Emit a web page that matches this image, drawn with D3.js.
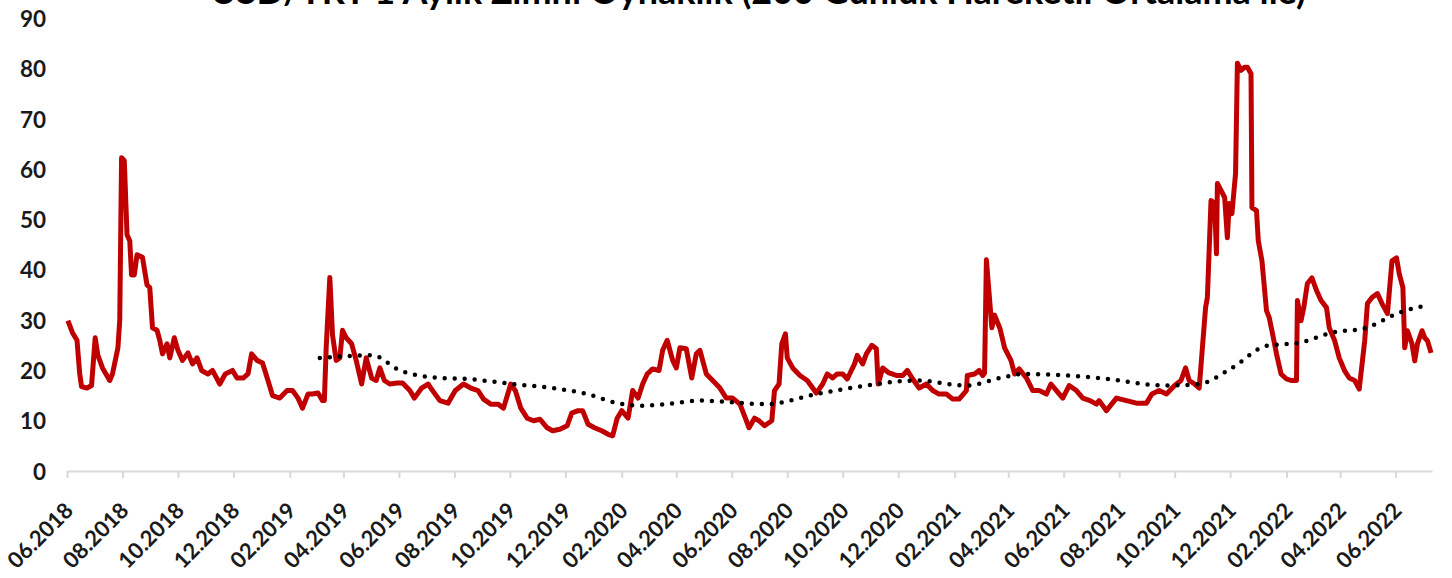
<!DOCTYPE html>
<html><head><meta charset="utf-8">
<script src="https://cdn.jsdelivr.net/npm/d3@7"></script>
<style>
body{margin:0;background:#fff;}
svg{display:block;}
text{font-family:Lato,"Open Sans","Liberation Sans",sans-serif;font-weight:700;}
</style>
</head><body>
<svg id="chart" width="1452" height="578"></svg>
<script>
const titleText = "USD/TRY 1 Aylık Zımni Oynaklık (200 Günlük Hareketli Ortalama ile)";
const yTickValues = [0,10,20,30,40,50,60,70,80,90];
const xTickLabels = ["06.2018","08.2018","10.2018","12.2018","02.2019","04.2019","06.2019","08.2019","10.2019","12.2019","02.2020","04.2020","06.2020","08.2020","10.2020","12.2020","02.2021","04.2021","06.2021","08.2021","10.2021","12.2021","02.2022","04.2022","06.2022"];
const xDomain = ["2018-06-01","2022-07-11"];

// 1-month implied volatility (date, value)
const impliedVol = [
["2018-06-02",29.9],["2018-06-07",27.5],["2018-06-12",26],["2018-06-15",19.3],["2018-06-17",16.8],["2018-06-23",16.5],["2018-06-28",17],
["2018-07-02",26.5],["2018-07-05",23],["2018-07-10",20.5],["2018-07-18",18],["2018-07-21",19.3],["2018-07-27",24.5],["2018-07-29",30],["2018-07-31",62.3],
["2018-08-03",61.7],["2018-08-06",47],["2018-08-09",45.8],["2018-08-11",39],["2018-08-14",39],["2018-08-17",43],["2018-08-23",42.5],["2018-08-28",37],["2018-08-31",36.5],
["2018-09-03",28.5],["2018-09-08",28],["2018-09-11",26],["2018-09-14",23.3],["2018-09-19",25.3],["2018-09-22",22.5],["2018-09-27",26.5],
["2018-10-01",24],["2018-10-06",22],["2018-10-12",23.5],["2018-10-17",21.3],["2018-10-22",22.5],["2018-10-27",20],
["2018-11-03",19.3],["2018-11-08",20],["2018-11-16",17.3],["2018-11-22",19.3],["2018-11-30",20],
["2018-12-05",18.5],["2018-12-12",18.5],["2018-12-17",19.3],["2018-12-21",23.3],["2018-12-27",22],
["2019-01-02",21.5],["2019-01-08",18],["2019-01-13",15],["2019-01-21",14.5],["2019-01-29",16],
["2019-02-04",16],["2019-02-10",14.5],["2019-02-15",12.5],["2019-02-21",15.3],["2019-02-26",15.3],
["2019-03-04",15.5],["2019-03-09",14],["2019-03-11",14],["2019-03-13",24.5],["2019-03-17",38.5],["2019-03-20",27],["2019-03-24",22],["2019-03-28",22.5],["2019-03-31",28],
["2019-04-04",26.5],["2019-04-10",25.3],["2019-04-15",22],["2019-04-21",17.3],["2019-04-26",22.5],
["2019-05-02",18.5],["2019-05-07",18],["2019-05-11",20.5],["2019-05-16",18],["2019-05-22",17.3],["2019-05-30",17.5],
["2019-06-05",17.5],["2019-06-13",16],["2019-06-18",14.5],["2019-06-26",16.5],
["2019-07-03",17.3],["2019-07-08",16],["2019-07-16",14],["2019-07-25",13.5],
["2019-08-02",16],["2019-08-11",17.3],["2019-08-19",16.5],["2019-08-27",16],
["2019-09-02",14.3],["2019-09-10",13.3],["2019-09-18",13.3],["2019-09-24",12.5],
["2019-10-02",17.3],["2019-10-07",16],["2019-10-13",12.5],["2019-10-20",10.5],["2019-10-27",10],
["2019-11-03",10.3],["2019-11-11",8.6],["2019-11-17",8],["2019-11-25",8.3],
["2019-12-03",9],["2019-12-08",11.5],["2019-12-15",12],["2019-12-20",12],["2019-12-26",9.3],
["2020-01-02",8.6],["2020-01-10",8],["2020-01-17",7.3],["2020-01-22",7],["2020-01-27",10.5],
["2020-02-01",12],["2020-02-08",10.5],["2020-02-13",16],["2020-02-19",14.5],["2020-02-24",17.3],["2020-02-29",19.3],
["2020-03-06",20.3],["2020-03-13",20],["2020-03-17",24],["2020-03-22",26],["2020-03-28",22],
["2020-04-01",20.5],["2020-04-05",24.5],["2020-04-12",24.3],["2020-04-18",18.5],["2020-04-23",23.3],["2020-04-27",24],
["2020-05-04",19.3],["2020-05-11",18],["2020-05-19",16.5],["2020-05-26",14.5],
["2020-06-02",14.5],["2020-06-10",13.3],["2020-06-17",10],["2020-06-20",8.6],["2020-06-26",10.5],
["2020-07-01",10],["2020-07-07",9],["2020-07-15",10],["2020-07-18",16],["2020-07-23",17.3],["2020-07-26",25.3],["2020-07-30",27.3],
["2020-08-01",22.5],["2020-08-07",20.5],["2020-08-15",19],["2020-08-23",18],["2020-08-29",16.5],
["2020-09-02",15.5],["2020-09-09",17.3],["2020-09-14",19.3],["2020-09-20",18.5],["2020-09-25",19.3],
["2020-10-01",19.3],["2020-10-06",18.3],["2020-10-14",21.3],["2020-10-17",23],["2020-10-23",21.3],["2020-10-27",23.3],
["2020-11-02",25],["2020-11-07",24.3],["2020-11-09",17.3],["2020-11-14",20.5],["2020-11-21",19.5],["2020-11-29",19],
["2020-12-06",19],["2020-12-11",20],["2020-12-17",18.3],["2020-12-24",16.5],
["2021-01-01",17.3],["2021-01-08",16],["2021-01-15",15.3],["2021-01-23",15.3],["2021-01-30",14.3],
["2021-02-06",14.3],["2021-02-14",16],["2021-02-15",19],["2021-02-23",19.3],["2021-02-28",20],
["2021-03-04",19],["2021-03-06",19.5],["2021-03-08",42],["2021-03-14",28.5],["2021-03-17",31],["2021-03-23",28.3],["2021-03-28",24.5],
["2021-04-04",22],["2021-04-08",19.3],["2021-04-13",20.3],["2021-04-21",18.5],["2021-04-28",16],
["2021-05-05",16],["2021-05-13",15.3],["2021-05-18",17.3],["2021-05-24",16],["2021-05-31",14.5],
["2021-06-07",17],["2021-06-15",16],["2021-06-22",14.5],["2021-06-30",14],
["2021-07-07",13.3],["2021-07-10",14],["2021-07-18",12],["2021-07-29",14.5],
["2021-08-09",14],["2021-08-20",13.5],["2021-08-31",13.5],
["2021-09-06",15.3],["2021-09-14",16],["2021-09-22",15.3],
["2021-10-01",17],["2021-10-08",18],["2021-10-13",20.5],["2021-10-17",18],["2021-10-23",17.3],["2021-10-28",16.5],["2021-10-31",23.3],
["2021-11-04",32.5],["2021-11-06",34.5],["2021-11-10",53.8],["2021-11-14",53.2],["2021-11-16",43.2],["2021-11-17",57.2],["2021-11-21",55.8],["2021-11-25",54.4],["2021-11-28",46.4],["2021-11-30",53.2],
["2021-12-03",51.2],["2021-12-07",59.2],["2021-12-09",81.1],["2021-12-13",79.7],["2021-12-17",80.3],["2021-12-20",80.3],["2021-12-24",79],["2021-12-25",52.4],["2021-12-30",51.8],
["2022-01-01",45.8],["2022-01-05",41.8],["2022-01-10",31.9],["2022-01-13",30.5],["2022-01-16",27.9],["2022-01-21",23.3],["2022-01-26",19.3],
["2022-02-01",18.3],["2022-02-06",18],["2022-02-12",18],["2022-02-13",33.9],["2022-02-17",29.9],["2022-02-20",32.5],["2022-02-24",37.3],
["2022-03-01",38.4],["2022-03-06",35.9],["2022-03-11",33.9],["2022-03-17",32.5],["2022-03-20",28.5],["2022-03-26",25.9],["2022-03-31",22.5],
["2022-04-06",19.9],["2022-04-11",18.5],["2022-04-17",18],["2022-04-22",16.3],["2022-04-28",25.9],
["2022-05-01",33.3],["2022-05-06",34.5],["2022-05-12",35.3],["2022-05-17",33.3],["2022-05-23",31.3],["2022-05-28",41.8],
["2022-06-02",42.4],["2022-06-05",39.2],["2022-06-09",36.5],["2022-06-11",24.5],["2022-06-14",27.9],["2022-06-19",25.3],["2022-06-22",21.9],["2022-06-25",25.3],["2022-06-30",27.9],
["2022-07-03",26.5],["2022-07-06",25.9],["2022-07-10",23.5]
];

// 200-day moving average (date, value)
const movingAvg = [
["2019-03-06",22.5],["2019-05-03",23],["2019-06-02",20],["2019-07-16",18.5],["2019-08-15",18.3],["2019-10-04",17.3],
["2019-11-17",16.5],["2019-12-25",15.3],["2020-01-27",13.5],["2020-02-24",13],["2020-03-21",13.3],["2020-04-27",14],
["2020-07-09",13.3],["2020-09-02",15.3],["2020-10-27",17],["2020-12-21",18],["2021-02-14",17],["2021-03-23",18.5],
["2021-04-17",19.3],["2021-07-10",18.5],["2021-09-22",17],["2021-10-28",17.3],["2021-12-03",20.5],["2022-01-10",24.9],
["2022-02-15",25.5],["2022-03-23",27.5],["2022-04-30",28.5],["2022-06-05",31.5],["2022-07-06",33]
];

const parseDate = d3.timeParse("%Y-%m-%d");
const parseTick = d3.timeParse("%m.%Y");
const svg = d3.select("#chart");

const x = d3.scaleTime().domain(xDomain.map(parseDate)).range([67, 1432]);
const y = d3.scaleLinear().domain([0, 90]).range([471, 18.5]);

// Title (cropped at the top edge, as in the reference)
const title = svg.append("text")
  .attr("x", 758).attr("y", 3.5)
  .attr("text-anchor", "middle")
  .attr("fill", "#000")
  .style("font-size", "28px")
  .text(titleText);
const tl = title.node().getComputedTextLength();
title.style("font-size", (28 * 1096 / tl) + "px");

// Y axis labels
const yAxis = d3.axisLeft(y).tickValues(yTickValues).tickSize(0).tickPadding(0).tickFormat(d3.format("d"));
const gy = svg.append("g").attr("transform", "translate(46,0)").call(yAxis);
gy.select(".domain").remove();
gy.selectAll("text").attr("fill", "#1a1a1a").style("font-size", "22.5px")
  .attr("dy", "0.36em");

// X axis
const xAxis = d3.axisBottom(x).tickValues(xTickLabels.map(parseTick)).tickSize(7).tickSizeOuter(0).tickFormat(d3.timeFormat("%m.%Y"));
const gx = svg.append("g").attr("transform", "translate(0,471)").call(xAxis);
gx.select(".domain").attr("stroke", "#d9d9d9").attr("stroke-width", 2);
gx.selectAll(".tick line").attr("stroke", "#d9d9d9").attr("stroke-width", 2);
gx.selectAll(".tick text")
  .attr("fill", "#1a1a1a").style("font-size", "22px")
  .attr("text-anchor", "end")
  .attr("x", 0).attr("y", 0).attr("dy", 0)
  .attr("transform", "translate(7,41) rotate(-45)");

// Lines
const line = d3.line().x(d => x(parseDate(d[0]))).y(d => y(d[1]));

svg.append("path").datum(impliedVol)
  .attr("d", line)
  .attr("fill", "none")
  .attr("stroke", "#C00000")
  .attr("stroke-width", 5)
  .attr("stroke-linejoin", "round");

svg.append("path").datum(movingAvg)
  .attr("d", line.curve(d3.curveMonotoneX))
  .attr("fill", "none")
  .attr("stroke", "#000")
  .attr("stroke-width", 4.5)
  .attr("stroke-linecap", "round")
  .attr("stroke-dasharray", "0,10");
</script>
</body></html>
